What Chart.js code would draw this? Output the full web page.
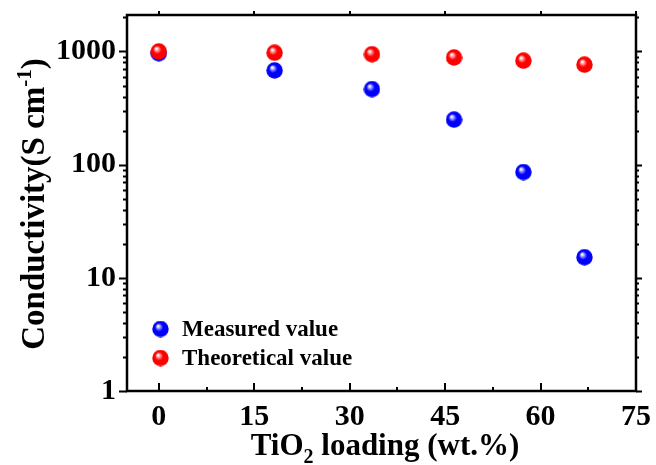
<!DOCTYPE html>
<html>
<head>
<meta charset="utf-8">
<script src="https://cdn.jsdelivr.net/npm/chart.js@4"></script>
<style>
  html, body { margin: 0; padding: 0; background: #fff; }
  #wrap { width: 656px; height: 465px; }
</style>
</head>
<body>
<div id="wrap"><canvas id="chart" width="656" height="465"></canvas></div>
<script>
// values
const loading = [0, 18.2, 33.5, 46.4, 57.3, 66.9];
const measured = [965, 680, 465, 250, 86, 15.2];
const theoretical = [1000, 975, 945, 885, 830, 765];
const seriesNames = ["Measured value", "Theoretical value"];
const xTicks = [0, 15, 30, 45, 60, 75];
const yTickLabels = ["1", "10", "100", "1000"];

const FONT = "'Liberation Serif', 'Times New Roman', serif";

function ball(color, light, dark) {
    const c = document.createElement("canvas");
    c.width = 17; c.height = 17;
    const g = c.getContext("2d");
    const grad = g.createRadialGradient(6, 5.5, 0.5, 8.5, 8.5, 8.5);
    grad.addColorStop(0, "#ffffff");
    grad.addColorStop(0.18, light);
    grad.addColorStop(0.45, color);
    grad.addColorStop(0.9, color);
    grad.addColorStop(1, dark);
    g.fillStyle = grad;
    g.beginPath();
    g.arc(8.5, 8.5, 8.2, 0, Math.PI * 2);
    g.fill();
    return c;
}
const blueBall = ball("#0000ff", "#9a9aff", "#0000d0");
const redBall = ball("#ff0000", "#ff9a9a", "#d80000");

function toPoints(xs, ys) {
    return xs.map((x, i) => ({ x: x, y: ys[i] }));
}

// draws text pieces in a row, some raised or lowered
function drawPieces(ctx, pieces, x, y) {
    pieces.forEach(p => {
        ctx.font = p[1];
        ctx.fillText(p[0], x, y + p[2]);
        x += ctx.measureText(p[0]).width;
    });
}
function piecesWidth(ctx, pieces) {
    let w = 0;
    pieces.forEach(p => { ctx.font = p[1]; w += ctx.measureText(p[0]).width; });
    return w;
}

// frame, ticks, legend and axis titles
const framePlugin = {
    id: "frame",
    afterDraw(chart) {
        const ctx = chart.ctx;
        const a = chart.chartArea;
        const xs = chart.scales.x, ys = chart.scales.y;
        ctx.save();
        ctx.strokeStyle = "#000";
        ctx.lineWidth = 2.5;
        ctx.strokeRect(a.left, a.top, a.right - a.left, a.bottom - a.top);

        ctx.lineWidth = 2;
        ctx.beginPath();
        // y ticks (left outward, right outward)
        for (let d = 1; d <= 1000; d *= 10) {
            for (let m = 1; m <= 9; m++) {
                const v = d * m;
                if (v > ys.max) break;
                const py = Math.round(ys.getPixelForValue(v)) + 0.5;
                const len = m === 1 ? 8 : 4;
                ctx.moveTo(a.left - len, py); ctx.lineTo(a.left, py);
                ctx.moveTo(a.right, py); ctx.lineTo(a.right + (m === 1 ? 6 : 3), py);
            }
        }
        // x ticks (bottom inward, top outward)
        xTicks.forEach((v, i) => {
            const px = Math.round(xs.getPixelForValue(v));
            ctx.moveTo(px, a.bottom); ctx.lineTo(px, a.bottom - 8);
            ctx.moveTo(px, a.top); ctx.lineTo(px, a.top - 4);
            if (i < xTicks.length - 1) {
                const mx = Math.round(xs.getPixelForValue(v + 7.5));
                ctx.moveTo(mx, a.bottom); ctx.lineTo(mx, a.bottom - 4);
            }
        });
        ctx.stroke();

        // legend
        const imgs = [blueBall, redBall];
        ctx.fillStyle = "#000";
        ctx.font = "bold 23px " + FONT;
        ctx.textBaseline = "middle";
        ctx.textAlign = "left";
        seriesNames.forEach((name, i) => {
            const cy = 329 + i * 29;
            ctx.drawImage(imgs[i], 152, cy - 8.5);
            ctx.fillText(name, 182, cy + 1);
        });

        // x title with subscript
        ctx.textBaseline = "alphabetic";
        const xbig = "bold 31px " + FONT, xsmall = "bold 20px " + FONT;
        const xparts = [["TiO", xbig, 0], ["2", xsmall, 8], [" loading (wt.%)", xbig, 0]];
        const xw = piecesWidth(ctx, xparts);
        drawPieces(ctx, xparts, 385 - xw / 2, 455);

        // y title with superscript
        const ybig = "bold 33px " + FONT, ysmall = "bold 21px " + FONT;
        const yparts = [["Conductivity(S cm", ybig, 0], ["-1", ysmall, -13], [")", ybig, 0]];
        ctx.translate(44, 204);
        ctx.rotate(-Math.PI / 2);
        const yw = piecesWidth(ctx, yparts);
        drawPieces(ctx, yparts, -yw / 2, 0);
        ctx.restore();
    }
};

new Chart(document.getElementById("chart"), {
    type: "scatter",
    data: {
        datasets: [
            {
                label: seriesNames[0],
                data: toPoints(loading, measured),
                pointStyle: blueBall,
                order: 2
            },
            {
                label: seriesNames[1],
                data: toPoints(loading, theoretical),
                pointStyle: redBall,
                order: 1
            }
        ]
    },
    options: {
        responsive: false,
        animation: false,
        layout: { padding: { top: 15, right: 20, left: 0, bottom: 0 } },
        plugins: {
            legend: { display: false },
            tooltip: { enabled: false }
        },
        scales: {
            x: {
                type: "linear",
                min: -5,
                max: 75,
                grid: { display: false },
                border: { display: false },
                afterBuildTicks(scale) {
                    scale.ticks = xTicks.map(v => ({ value: v }));
                },
                ticks: {
                    color: "#000",
                    padding: 0,
                    maxRotation: 0,
                    font: { family: FONT, size: 30, weight: "bold" },
                    callback: v => String(v)
                },
                afterFit(scale) {
                    scale.height = 74;
                    scale.paddingLeft = 0;
                    scale.paddingRight = 0;
                }
            },
            y: {
                type: "logarithmic",
                min: 1,
                max: 2100,
                grid: { display: false },
                border: { display: false },
                afterBuildTicks(scale) {
                    scale.ticks = yTickLabels.map(s => ({ value: Number(s) }));
                },
                ticks: {
                    color: "#000",
                    padding: 3,
                    autoSkip: false,
                    font: { family: FONT, size: 30, weight: "bold" },
                    callback: (v) => {
                        const s = String(v);
                        return yTickLabels.includes(s) ? s : "";
                    }
                },
                afterFit(scale) {
                    scale.width = 127;
                    scale.paddingTop = 0;
                    scale.paddingBottom = 0;
                }
            }
        }
    },
    plugins: [framePlugin]
});
</script>
</body>
</html>
